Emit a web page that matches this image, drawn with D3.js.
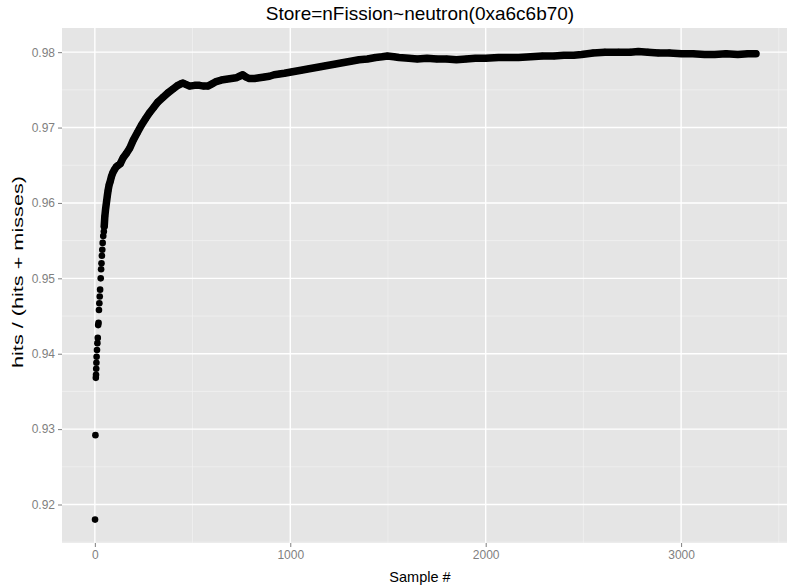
<!DOCTYPE html>
<html>
<head>
<meta charset="utf-8">
<script src="https://cdn.jsdelivr.net/npm/d3@7"></script>
<style>
  html, body { margin: 0; padding: 0; background: #ffffff; }
  svg { display: block; font-family: "Liberation Sans", Arial, sans-serif; }
</style>
</head>
<body>
<svg id="chart" width="787" height="585"></svg>
<script>
// ---- Data ----
const chartTitle = "Store=nFission~neutron(0xa6c6b70)";
const xTitle = "Sample #";
const yTitle = "hits / (hits + misses)";

const samples = [1, 3, 5, 6, 7, 8, 9, 11, 13, 15, 17, 19, 21, 23, 25, 27, 30, 32, 34, 36, 38, 40, 43, 46, 48,
  51, 55, 60, 64, 68, 73, 78, 85, 92, 100, 110, 120, 130, 145, 162, 179, 196, 217, 238, 260, 281, 302, 323,
  348, 374, 400, 425, 440, 451, 468, 485, 510, 536, 557, 578, 600, 621, 647, 672, 698, 723, 740, 757, 774,
  791, 817, 842, 868, 893, 918, 944, 970, 1012, 1055, 1097, 1140, 1182, 1225, 1267, 1310, 1352, 1395, 1437,
  1470, 1497, 1530, 1556, 1607, 1650, 1700, 1750, 1800, 1850, 1900, 1947, 2000, 2066, 2120, 2168, 2230,
  2290, 2350, 2400, 2450, 2491, 2550, 2610, 2680, 2740, 2781, 2830, 2883, 2940, 3002, 3060, 3120, 3172,
  3230, 3290, 3342, 3383];

const ratios = [0.9180, 0.9292, 0.9368, 0.9372, 0.9380, 0.9388, 0.9396, 0.9405, 0.9414, 0.9421, 0.9438,
  0.9441, 0.9458, 0.9467, 0.9476, 0.9485, 0.9500, 0.9512, 0.9520, 0.9530, 0.9538, 0.9547, 0.9556, 0.9562,
  0.9569, 0.9582, 0.9592, 0.9602, 0.9610, 0.9617, 0.9624, 0.9628, 0.9635, 0.9640, 0.9644, 0.9648, 0.9650,
  0.9652, 0.9660, 0.9666, 0.9673, 0.9683, 0.9693, 0.9703, 0.9712, 0.9720, 0.9727, 0.9734, 0.9740, 0.9746,
  0.9751, 0.9756, 0.9758, 0.9759, 0.9757, 0.9755, 0.9756, 0.9756, 0.9755, 0.9755, 0.9758, 0.9761, 0.9763,
  0.9764, 0.9765, 0.9766, 0.9768, 0.9770, 0.9767, 0.9765, 0.9765, 0.9766, 0.9767, 0.9768, 0.9770, 0.9771,
  0.9772, 0.9774, 0.9776, 0.9778, 0.9780, 0.9782, 0.9784, 0.9786, 0.9788, 0.9790, 0.9791, 0.9793, 0.9794,
  0.9795, 0.9794, 0.9793, 0.9792, 0.9791, 0.9792, 0.9791, 0.9791, 0.9790, 0.9791, 0.9792, 0.9792, 0.9793,
  0.9793, 0.9793, 0.9794, 0.9795, 0.9795, 0.9796, 0.9796, 0.9797, 0.9799, 0.9800, 0.9800, 0.9800, 0.9801,
  0.9800, 0.9799, 0.9799, 0.9798, 0.9798, 0.9797, 0.9797, 0.9798, 0.9797, 0.9798, 0.9798];

const xTicks = [0, 1000, 2000, 3000];
const yTicks = [0.92, 0.93, 0.94, 0.95, 0.96, 0.97, 0.98];
const xMinor = [500, 1500, 2500, 3500];
const yMinor = [0.915, 0.925, 0.935, 0.945, 0.955, 0.965, 0.975];
const denseFrom = 48; // samples from here on form a continuous band

// ---- Layout ----
const svg = d3.select("#chart");
const panel = { left: 62, top: 28, right: 789, bottom: 543 };

const xExt = d3.extent(samples), yExt = d3.extent(ratios);
const xPad = (xExt[1] - xExt[0]) * 0.05, yPad = (yExt[1] - yExt[0]) * 0.05;
const x = d3.scaleLinear().domain([xExt[0] - xPad, xExt[1] + xPad]).range([panel.left, panel.right]);
const y = d3.scaleLinear().domain([yExt[0] - yPad, yExt[1] + yPad]).range([panel.bottom, panel.top]);

const data = samples.map((s, i) => ({ s, r: ratios[i] }));

// panel background
svg.append("rect")
  .attr("x", panel.left).attr("y", panel.top)
  .attr("width", panel.right - panel.left).attr("height", panel.bottom - panel.top)
  .attr("fill", "#E5E5E5");

const grid = svg.append("g");
grid.selectAll("line.xmin").data(xMinor).join("line")
  .attr("x1", d => x(d)).attr("x2", d => x(d))
  .attr("y1", panel.top).attr("y2", panel.bottom)
  .attr("stroke", "#F2F2F2").attr("stroke-width", 0.7);
grid.selectAll("line.ymin").data(yMinor).join("line")
  .attr("y1", d => y(d)).attr("y2", d => y(d))
  .attr("x1", panel.left).attr("x2", panel.right)
  .attr("stroke", "#F2F2F2").attr("stroke-width", 0.7);
grid.selectAll("line.xmaj").data(xTicks).join("line")
  .attr("x1", d => x(d)).attr("x2", d => x(d))
  .attr("y1", panel.top).attr("y2", panel.bottom)
  .attr("stroke", "#FFFFFF").attr("stroke-width", 1.4);
grid.selectAll("line.ymaj").data(yTicks).join("line")
  .attr("y1", d => y(d)).attr("y2", d => y(d))
  .attr("x1", panel.left).attr("x2", panel.right)
  .attr("stroke", "#FFFFFF").attr("stroke-width", 1.4);

// axes
const xAxis = d3.axisBottom(x).tickValues(xTicks).tickFormat(d3.format("d")).tickSize(4).tickPadding(3);
const yAxis = d3.axisLeft(y).tickValues(yTicks).tickFormat(d3.format(".2f")).tickSize(4).tickPadding(3);

const gx = svg.append("g").attr("transform", `translate(0,${panel.bottom})`).call(xAxis);
const gy = svg.append("g").attr("transform", `translate(${panel.left},0)`).call(yAxis);
[gx, gy].forEach(g => {
  g.select(".domain").remove();
  g.selectAll(".tick line").attr("stroke", "#7F7F7F").attr("stroke-width", 1);
  g.selectAll(".tick text").attr("fill", "#7F7F7F")
    .style("font-family", "'Liberation Sans', Arial, sans-serif").style("font-size", "12px");
});

// data: continuous band + points
const dense = data.filter(d => d.s >= denseFrom);
svg.append("path")
  .datum(dense)
  .attr("d", d3.line().x(d => x(d.s)).y(d => y(d.r)))
  .attr("fill", "none").attr("stroke", "#000").attr("stroke-width", 7.5)
  .attr("stroke-linejoin", "round").attr("stroke-linecap", "round");

svg.append("g").selectAll("circle").data(data).join("circle")
  .attr("cx", d => x(d.s)).attr("cy", d => y(d.r)).attr("r", 3.3)
  .attr("fill", "#000");

// titles
svg.append("text").attr("x", 420).attr("y", 20).attr("text-anchor", "middle")
  .style("font-size", "19px").attr("fill", "#000").text(chartTitle);
svg.append("text").attr("x", 420).attr("y", 582).attr("text-anchor", "middle")
  .style("font-size", "14.5px").attr("fill", "#000").text(xTitle);
svg.append("text")
  .attr("transform", `translate(23,272) rotate(-90)`)
  .attr("text-anchor", "middle")
  .attr("textLength", 192).attr("lengthAdjust", "spacingAndGlyphs")
  .style("font-size", "15px").attr("fill", "#000").text(yTitle);
</script>
</body>
</html>
